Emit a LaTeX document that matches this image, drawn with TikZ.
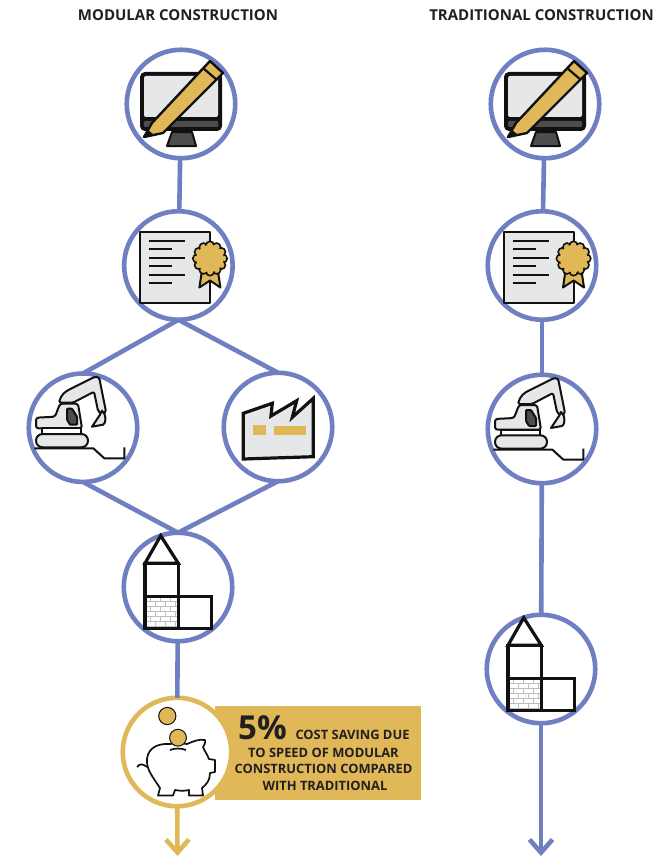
\documentclass[tikz,border=0pt]{standalone}
\usepackage{fontspec}
\setmainfont{Open Sans}[BoldFont={Open Sans Bold}]
\usetikzlibrary{arrows.meta}
\definecolor{cblue}{HTML}{6F7FC1}
\definecolor{cgold}{HTML}{E0B857}
\definecolor{cgrey}{HTML}{E6E7E8}
\definecolor{cdark}{HTML}{4D4D4D}
\definecolor{cink}{HTML}{111111}
\definecolor{ctext}{HTML}{231F20}
\tikzset{
  ring/.style={circle,draw=cblue,line width=4.6pt,fill=white,minimum size=108.5pt,inner sep=0pt,outer sep=0pt},
  goldring/.style={ring,draw=cgold},
  link/.style={draw=cblue,line width=4.6pt},
  goldlink/.style={draw=cgold,line width=4.6pt},
  ink/.style={draw=cink,line width=2pt,line join=round},
  heavy/.style={draw=cink,line width=3.2pt,line join=miter},
  title/.style={font=\bfseries\fontsize{15}{17}\selectfont,text=ctext,inner sep=0pt,anchor=base},
  note/.style={font=\bfseries\fontsize{12.9}{14}\selectfont,text=ctext,inner sep=0pt,anchor=base},
  comp/.pic={
    \draw[ink,fill=cink,rounded corners=4pt] (-40,-31) rectangle (40,26);
    \fill[cgrey,rounded corners=2pt] (-37,-28) rectangle (37,13);
    \fill[cdark,rounded corners=1pt] (-37,17) rectangle (37,23);
    \draw[ink,fill=cdark] (-9,28) -- (11,28) -- (15,42) -- (-14,42) -- cycle;
    \draw[ink,fill=cgold,line width=2.4pt] (-37,33) -- (-29,19) -- (29,-43) -- (42,-31) -- (-18,29) -- cycle;
    \draw[ink,line width=2.2pt] (22,-36) -- (36,-24);
    \fill[cink] (-37,33) -- (-33,26) -- (-28,30) -- cycle;
  },
  cert/.pic={
    \draw[ink,fill=cgrey] (-38,-34) rectangle (32,37);
    \foreach \yy/\xx in {-25/7,-17/-6.4,-8/7,0.5/-6.4,9/7,17/-6.4}
      \draw[ink] (-29,\yy) -- (\xx,\yy);
    \draw[ink,fill=cgold] (24,2) -- (21,22) -- (31.6,15) -- (42,22) -- (39,2) -- cycle;
    \foreach \aa in {0,30,...,330}
      \draw[draw=cink,line width=1.6pt,fill=cgold] (31.6,-7) ++(\aa:13) circle[radius=4.2];
    \fill[cgold] (31.6,-7) circle[radius=13.6];
  },
  digger/.pic={
    \draw[ink,fill=cgrey,rounded corners=1.5pt] (-24,-25) .. controls (-22,-33) and (-18,-36) .. (-12,-39) -- (8,-49) .. controls (12,-51) and (16,-52) .. (17,-46) -- (23,-16) -- (19,-13) -- (15,-17) -- (11,-36) -- (-10,-25) -- cycle;
    \draw[ink,fill=cgrey] (19,-17) .. controls (24,-13) and (23,-4) .. (20,-3) -- (9,-1) -- (17,-13) -- cycle;
    \draw[ink,fill=cgrey,rounded corners=2.5pt] (-47,-10) -- (-28,-11) -- (-23,-24) -- (-5,-24) -- (-1,0.6) -- (-47,0.6) -- cycle;
    \draw[ink,fill=cdark,rounded corners=.8pt] (-16,-19) -- (-11,-19) -- (-6,-11) -- (-6,-3) -- (-13,-3) -- (-16,-8) -- cycle;
    \draw[ink,fill=white] (-41,0.6) -- (-2,0.6) -- (-2,7) -- (-41,7) -- cycle;
    \draw[ink,fill=cgrey,rounded corners=6.5pt] (-47,6.3) rectangle (5,19.6);
    \draw[ink] (-48.7,20.6) -- (10.3,20.6) -- (21.3,30.6) -- (41.3,30.6) -- (41.3,19.6);
  },
  plant/.pic={
    \draw[heavy,fill=cgrey] (-34.7,-13.7) -- (-5.7,-23.7) -- (-7,-11) -- (18.7,-26.3) -- (14.3,-9.7) -- (35.3,-28.7) -- (35.3,29.7) -- (-34.7,32) -- cycle;
    \fill[cgold] (-25.3,-1.7) rectangle (-12.3,7.7);
    \fill[cgold] (-3.7,-1) rectangle (27.7,8.3);
  },
  block/.pic={
    \begin{scope}
      \clip (-33,9.7) rectangle (0.3,41.3);
      \fill[white] (-33,9.7) rectangle (0.3,41.3);
      \foreach \yy in {14,19,24,29,34,39}
        \draw[black!25,line width=.6pt] (-33,\yy) -- (0.3,\yy);
      \foreach \xx in {-28,-18,-8}
        \foreach \yy in {9.7,19,29,39}
          \draw[black!25,line width=.6pt] (\xx,\yy) -- ++(0,5);
      \foreach \xx in {-23,-13,-3}
        \foreach \yy in {14,24,34}
          \draw[black!25,line width=.6pt] (\xx,\yy) -- ++(0,5);
    \end{scope}
    \draw[heavy] (-33,-23.7) -- (-17.3,-51.3) -- (0.3,-23.7) -- cycle;
    \draw[heavy] (-33,-23.7) rectangle (0.3,41.3);
    \draw[heavy] (-33,9.7) -- (0.3,9.7);
    \draw[heavy] (0.3,9.7) rectangle (33.7,41.3);
  },
  pig/.pic={
    \draw[draw=cink,line width=1.7pt,line join=round,fill=white]
      (-7,-8) .. controls (-22,-9) and (-31,-2) .. (-30,11)
      .. controls (-29,19) and (-25,24) .. (-17,36)
      -- (-19,43.5) -- (-4,43.5) -- (-2,38)
      .. controls (3,39) and (8,39) .. (12,38)
      -- (12,43.5) -- (26,43.5) -- (25,36)
      .. controls (30,32) and (33,28) .. (33,21)
      -- (38,20) -- (38,8) -- (32,7)
      .. controls (30,2) and (27,-2) .. (26,-5)
      .. controls (29,-9) and (28,-12) .. (28,-12)
      .. controls (22,-13) and (17,-11) .. (10,-8)
      .. controls (4,-9) and (-2,-9) .. (-7,-8) -- cycle;
    \draw[draw=cink,line width=1.7pt] (-40,15) .. controls (-37,11) and (-34,12) .. (-30,15);
    \draw[draw=cink,line width=1.7pt] (-7,-2) .. controls (-2,-4) and (4,-4) .. (9,-2);
    \draw[draw=cink,line width=1pt,fill=cgold] (-9.7,-36) circle[radius=8.6];
    \draw[draw=cink,line width=1pt,fill=cgold] (1,-14.3) circle[radius=8.4];
  }
}
\begin{document}
\begin{tikzpicture}[x=1pt,y=-1pt]
\useasboundingbox (0,0) rectangle (669,856);
\fill[white] (0,0) rectangle (669,856);
\node[title] (tm) at (178,20.5) {MODULAR CONSTRUCTION};
\node[title] (tt) at (541.5,20.5) {TRADITIONAL CONSTRUCTION};
% banner
\fill[cgold] (215,706) rectangle (420.7,800);
% rings
\node[ring] (m1) at (181,104) {};
\node[ring] (m2) at (178.4,265.5) {};
\node[ring] (m3) at (83,427.7) {};
\node[ring] (m4) at (278,427) {};
\node[ring] (m5) at (178,587) {};
\node[goldring] (m6) at (177,752) {};
\node[ring] (t1) at (545,104) {};
\node[ring] (t2) at (542,265.5) {};
\node[ring] (t3) at (542,429) {};
\node[ring] (t4) at (541,669) {};
\coordinate (mend) at (177.5,856);
\coordinate (tend) at (541,856);
% connectors
\draw[link] (m1) -- (m2);
\draw[link] (m2.south) -- (m3.north);
\draw[link] (m2.south) -- (m4.north);
\draw[link] (m3.south) -- (m5.north);
\draw[link] (m4.south) -- (m5.north);
\draw[link] (m5) -- (m6);
\draw[goldlink,-{Straight Barb[length=13pt,width=23pt,line width=4.6pt]}] (m6) -- (mend);
\draw[link] (t1) -- (t2);
\draw[link] (t2) -- (t3);
\draw[link] (t3) -- (t4);
\draw[link,-{Straight Barb[length=13pt,width=23pt,line width=4.6pt]}] (t4) -- (tend);
% icons
\pic at (181,104) {comp};
\pic at (178.4,265.5) {cert};
\pic at (83,427.7) {digger};
\pic at (278,427) {plant};
\pic at (178,587) {block};
\pic at (177,752) {pig};
\pic at (545,104) {comp};
\pic at (542,265.5) {cert};
\pic at (542,429) {digger};
\pic at (541,669) {block};
% banner text
\node[font=\bfseries\fontsize{33}{33}\selectfont,text=ctext,inner sep=0pt,anchor=base] (pct) at (262.5,739) {5\%};
\node[note] (l1) at (352.5,739) {COST SAVING DUE};
\node[note] (l2) at (323.5,757) {TO SPEED OF MODULAR};
\node[note] (l3) at (323.5,773.5) {CONSTRUCTION COMPARED};
\node[note] (l4) at (325,790.5) {WITH TRADITIONAL};
\end{tikzpicture}
\end{document}
